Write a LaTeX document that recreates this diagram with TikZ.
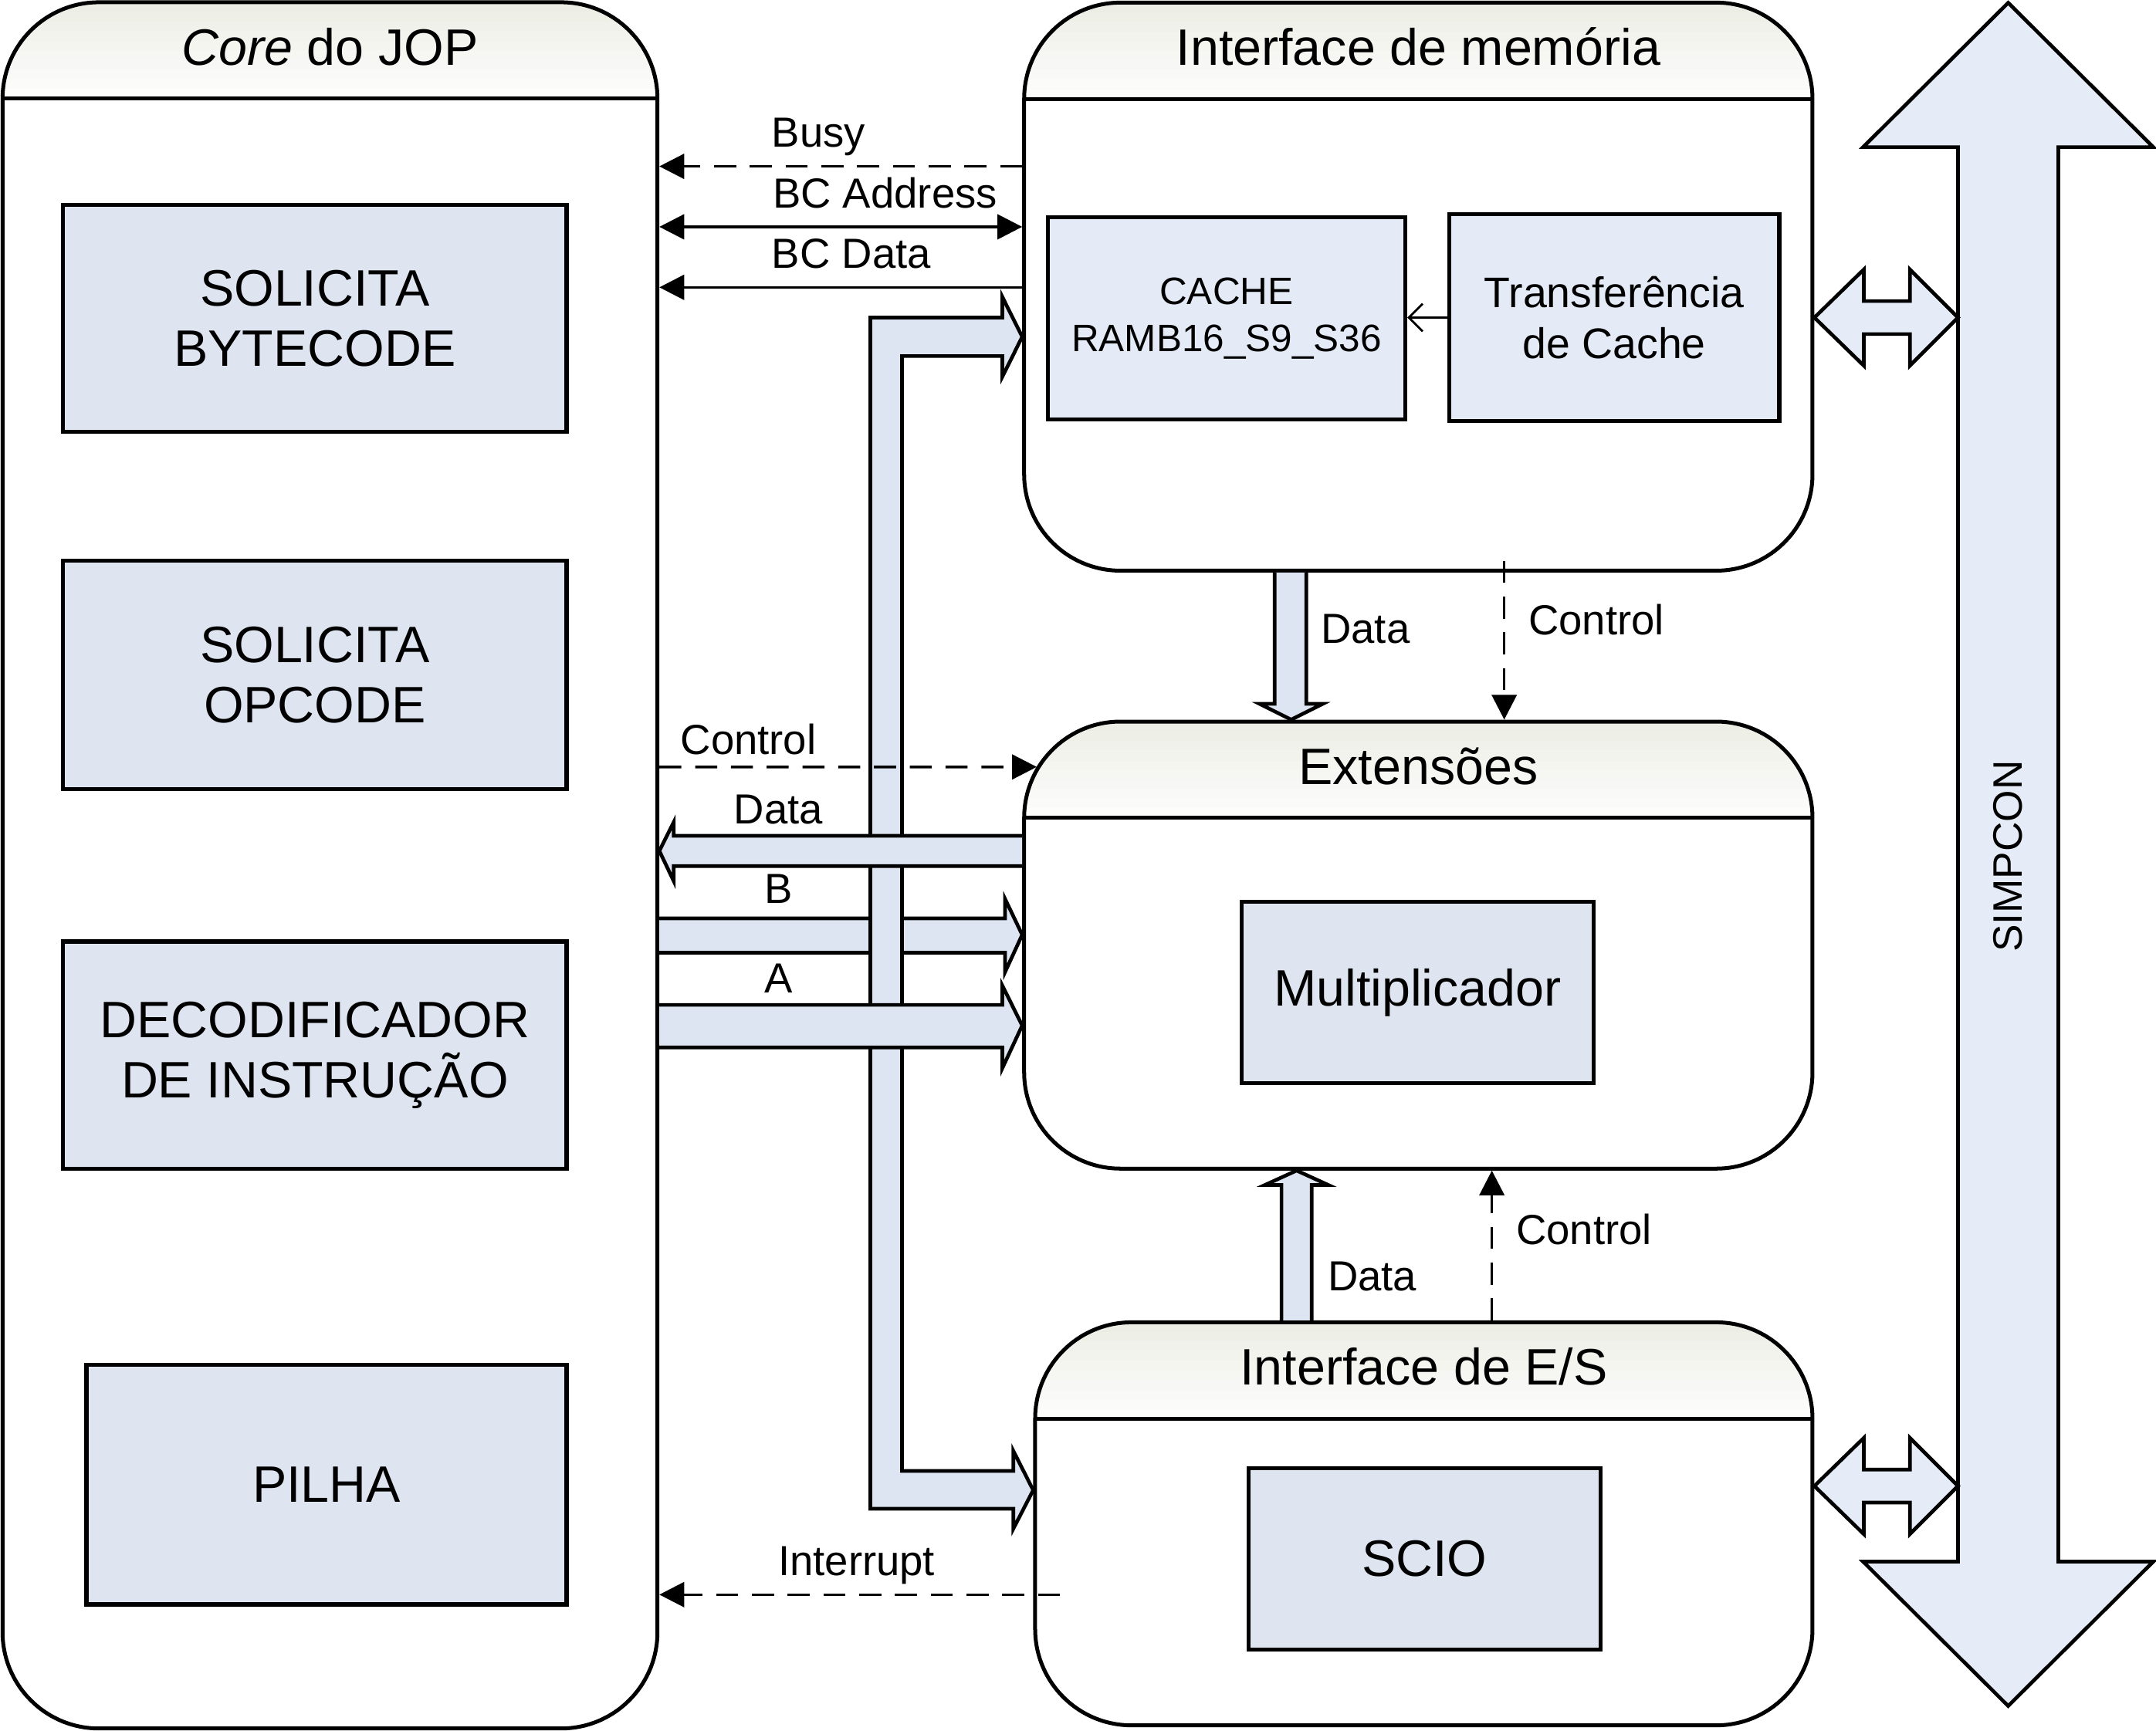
\documentclass[tikz,border=0pt]{standalone}
\usepackage{fontspec}
\setmainfont{Liberation Sans}
\usetikzlibrary{arrows.meta}

\definecolor{headtop}{RGB}{236,238,229}
\definecolor{boxfill}{RGB}{222,229,241}
\definecolor{cachefill}{RGB}{228,235,247}
\definecolor{arrowfill}{RGB}{221,228,242}
\definecolor{busfill}{RGB}{229,236,248}

\newcommand{\boxfont}{\fontsize{10.6}{12.5}\selectfont}
\newcommand{\lblfont}{\fontsize{8.7}{10}\selectfont}
\newcommand{\cachefont}{\fontsize{7.9}{9.7}\selectfont}
\newcommand{\transffont}{\fontsize{8.85}{10.5}\selectfont}
\newcommand{\simpfont}{\fontsize{8.5}{10}\selectfont}

\tikzset{
  bigbox/.style={draw, line width=0.8pt, rounded corners=0.7cm, inner sep=0pt,
    path picture={
      \foreach \i/\pct in {0/100,1/90,2/80,3/70,4/60,5/50,6/40,7/30,8/20,9/10}
        \fill[sharp corners, headtop!\pct!white]
          ([yshift=-\i*0.07cm]path picture bounding box.north west) rectangle
          ([yshift=-\i*0.07cm-0.075cm]path picture bounding box.north east);
      \draw[sharp corners, line width=0.8pt]
        ([yshift=-0.7cm]path picture bounding box.north west) -- ([yshift=-0.7cm]path picture bounding box.north east);
    }},
  boxtitle/.style={font=\boxfont, inner sep=0pt, anchor=base},
  inbox/.style={draw, line width=0.85pt, fill=boxfill, align=center, inner sep=0pt, font=\boxfont},
  lbl/.style={font=\lblfont, inner sep=0pt, text depth=0pt},
  sig/.style={line width=0.55pt},
  ctrl/.style={sig, dash pattern=on 0.16cm off 0.1cm},
  blockarrow/.style={draw, fill=arrowfill, line width=0.75pt, line join=miter},
  busarrow/.style={draw, fill=busfill, line width=0.75pt, line join=miter}
}

\begin{document}
\begin{tikzpicture}[x=0.01cm, y=-0.01cm, >={Triangle[length=0.18cm, width=0.18cm]}]
    \useasboundingbox (0,0) rectangle (1568,1259);

    % outer blocks with header
    \node[bigbox, minimum width=4.76cm, minimum height=12.55cm] (core) at (240,629.5) {};
    \node[bigbox, minimum width=5.73cm, minimum height=4.13cm] (mem) at (1031.5,208.5) {};
    \node[bigbox, minimum width=5.73cm, minimum height=3.25cm] (ext) at (1031.5,687.5) {};
    \node[bigbox, minimum width=5.65cm, minimum height=2.93cm] (es) at (1035.5,1108.5) {};

    \node[boxtitle] (coretitle) at ([yshift=-0.47cm]core.north) {\textit{Core} do JOP};
    \node[boxtitle] (memtitle) at ([yshift=-0.47cm]mem.north) {Interface de memória};
    \node[boxtitle] (exttitle) at ([yshift=-0.47cm]ext.north) {Extensões};
    \node[boxtitle] (estitle) at ([yshift=-0.47cm]es.north) {Interface de E/S};

    % inner blocks
    \node[inbox, minimum width=3.66cm, minimum height=1.65cm] (bytecode) at (229,231.5) {SOLICITA\\BYTECODE};
    \node[inbox, minimum width=3.66cm, minimum height=1.66cm] (opcode) at (229,491) {SOLICITA\\OPCODE};
    \node[inbox, minimum width=3.66cm, minimum height=1.65cm] (decod) at (229,767.5) {DECODIFICADOR\\DE INSTRUÇÃO};
    \node[inbox, minimum width=3.49cm, minimum height=1.74cm] (pilha) at (237.5,1080) {PILHA};
    \node[inbox, fill=cachefill, font=\cachefont, minimum width=2.6cm, minimum height=1.47cm] (cache) at (892,231.5) {CACHE\\RAMB16\_S9\_S36};
    \node[inbox, fill=cachefill, font=\transffont, minimum width=2.4cm, minimum height=1.5cm] (transf) at (1174,231) {Transferência\\de Cache};
    \node[inbox, minimum width=2.56cm, minimum height=1.32cm] (mult) at (1031,722) {Multiplicador};
    \node[inbox, minimum width=2.56cm, minimum height=1.32cm] (scio) at (1036,1134) {SCIO};

    \draw[line width=0.45pt, -{Straight Barb[length=0.1cm, width=0.2cm]}] (transf.west) -- (cache.east |- transf.west);

    % SIMPCON bus
    \path[busarrow] (1460.5,2) -- (1566,107) -- (1497,107) -- (1497,1136) -- (1566,1136) -- (1460.5,1241)
        -- (1355,1136) -- (1424,1136) -- (1424,107) -- (1355,107) -- cycle;
    \node[font=\simpfont, rotate=90, inner sep=0pt] (simpcon) at (1460.5,623) {SIMPCON};

    \path[busarrow] (mem.east |- 0,231) -- (1355.5,196) -- (1355.5,219) -- (1389,219) -- (1389,196) -- (1424,231)
        -- (1389,266) -- (1389,243) -- (1355.5,243) -- (1355.5,266) -- cycle;
    \path[busarrow] (es.east |- 0,1081) -- (1355.5,1046) -- (1355.5,1069) -- (1389,1069) -- (1389,1046) -- (1424,1081)
        -- (1389,1116) -- (1389,1093) -- (1355.5,1093) -- (1355.5,1116) -- cycle;

    % core <-> memory interface
    \draw[ctrl, ->] (mem.west |- 0,121) -- node[lbl, above=3.7pt, pos=0.561] {Busy} (core.east |- 0,121);
    \draw[sig, <->] (core.east |- 0,165) -- node[lbl, above=3.7pt, pos=0.622] {BC Address} (mem.west |- 0,165);
    \draw[sig, ->] (mem.west |- 0,209) -- node[lbl, above=3.7pt, pos=0.471] {BC Data} (core.east |- 0,209);

    % operand B runs under the bus
    \path[blockarrow] (core.east |- 0,668) -- node[lbl, above=2.7pt, pos=0.344] {B} (731,668) -- (731,654)
        -- (ext.west |- 0,680) -- (731,707) -- (731,693) -- (core.east |- 0,693);

    % bus to memory and I/O interface
    \path[blockarrow] (633,1097.5) -- (633,231) -- (729,231) -- (729,216) -- (mem.west |- 0,245) -- (729,274)
        -- (729,259) -- (656,259) -- (656,1070) -- (737,1070) -- (737,1055.5) -- (es.west |- 0,1084)
        -- (737,1112) -- (737,1097.5) -- cycle;

    % operand A and result
    \path[blockarrow] (core.east |- 0,731) -- node[lbl, above=2.1pt, pos=0.347] {A} (729,731) -- (729,717)
        -- (ext.west |- 0,746) -- (729,777) -- (729,762) -- (core.east |- 0,762);
    \path[blockarrow] (ext.west |- 0,608) -- node[lbl, above=2.1pt, pos=0.70] {Data} (490,608) -- (490,598)
        -- (core.east |- 0,619) -- (490,641) -- (490,630) -- (ext.west |- 0,630);

    \draw[ctrl, ->] (core.east |- 0,558) -- node[lbl, above=2.3pt, pos=0.236] {Control} ([shift={(10.6,34.4)}]ext.north west);

    % memory interface -> extensions
    \path[blockarrow] (mem.south -| 927,0) -- (927,512) -- (916,512) -- (ext.north -| 939,0) -- (962,512)
        -- (950,512) -- (mem.south -| 950,0);
    \node[lbl, anchor=base west] (memdata) at (960,468) {Data};
    \coordinate (memctl) at (1094,408);
    \draw[ctrl, ->] (memctl) -- (memctl |- ext.north);
    \node[lbl, anchor=base west] (memcontrol) at (1111,462) {Control};

    % I/O interface -> extensions
    \path[blockarrow] (es.north -| 932,0) -- (932,862) -- (920,862) -- (ext.south -| 943,0) -- (966,862)
        -- (954,862) -- (es.north -| 954,0);
    \node[lbl, anchor=base west] (esdata) at (965,939) {Data};
    \draw[ctrl, ->] (es.north -| 1085,0) -- (ext.south -| 1085,0);
    \node[lbl, anchor=base west] (escontrol) at (1102,905) {Control};

    % interrupt
    \coordinate (intr) at (771,1160);
    \draw[ctrl, ->] (intr) -- node[lbl, above=3.7pt, pos=0.508] {Interrupt} (core.east |- intr);
\end{tikzpicture}
\end{document}
